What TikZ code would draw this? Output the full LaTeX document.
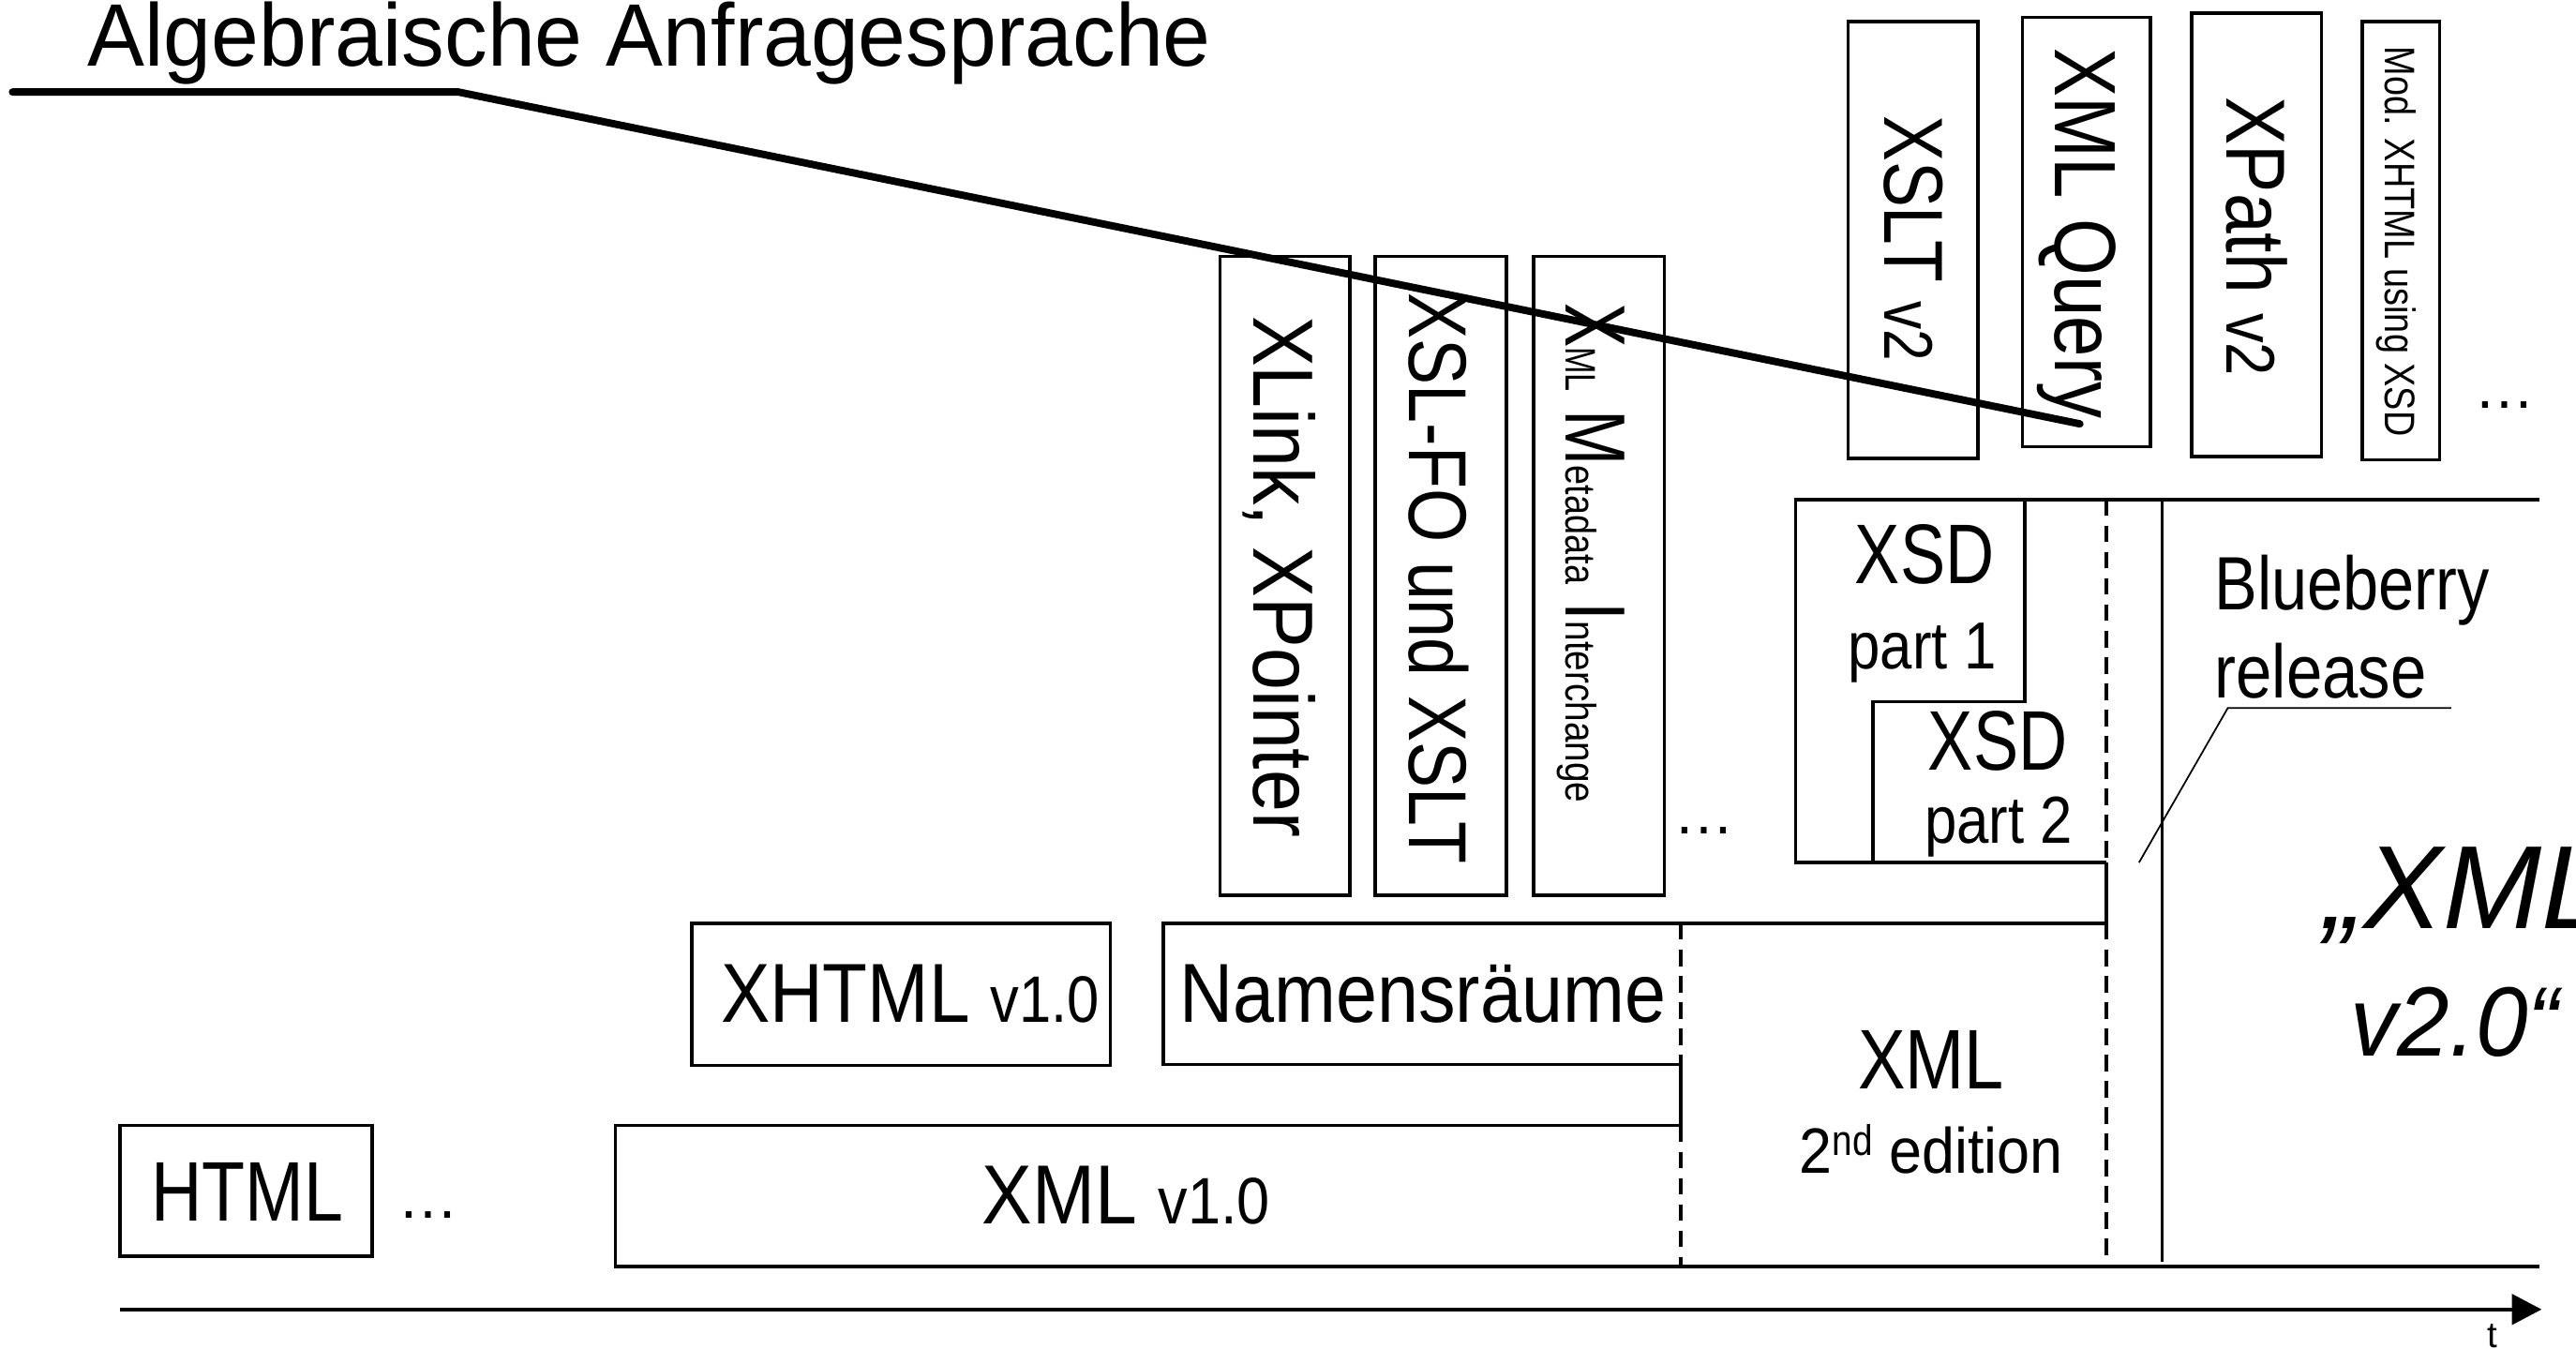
\documentclass[tikz,border=0pt]{standalone}
\usepackage{graphicx}
\usepackage{fontspec}
\setmainfont{Liberation Sans}
\usetikzlibrary{arrows.meta}
\newcommand{\sx}[3]{\scalebox{#1}[1]{\fontsize{#2}{#2}\selectfont #3}}
\begin{document}
\begin{tikzpicture}[x=1pt,y=-1pt,
  bx/.style={draw, line width=2pt},
  ln/.style={line width=2pt},
  dsh/.style={line width=2pt, dash pattern=on 10pt off 6pt},
  thk/.style={line width=4.5pt, line cap=round},
  thn/.style={line width=1pt},
  txt/.style={inner sep=0pt, outer sep=0pt},
  vt/.style={txt, rotate=-90, anchor=base}
]
\useasboundingbox (0,0) rectangle (1568,821);
\clip (0,0) rectangle (1568,821);

% ---- top-right vertical boxes
\draw[bx] (1125,13) rectangle (1204,279);
\draw[bx] (1231,10.6) rectangle (1309,272);
\draw[bx] (1334,8) rectangle (1413,278);
\draw[bx] (1438,13) rectangle (1485,280);
\node[vt] (xslt2) at (1147,145) {\sx{0.82}{51}{XSLT\ }\sx{0.82}{42}{v2}};
\node[vt] (xq) at (1251,142) {\sx{0.84}{53}{XML Query}};
\node[vt] (xp2) at (1355.5,144) {\sx{0.86}{51}{XPath\ }\sx{0.86}{42}{v2}};
\node[vt] (mod) at (1452,147) {\sx{0.83}{26}{Mod. XHTML using XSD}};
\node[txt, anchor=base] (dots3) at (1524.5,248.5) {\sx{1}{37}{…}};

% ---- middle vertical boxes
\draw[bx] (742.5,156) rectangle (821.6,545);
\draw[bx] (837,156) rectangle (917,545);
\draw[bx] (933.5,156) rectangle (1013,545);
\node[vt] (xlink) at (763,351) {\sx{0.885}{52}{XLink, XPointer}};
\node[vt] (xslfo) at (858,352) {\sx{0.84}{50}{XSL-FO und XSLT}};
\node[vt] (xmi) at (953,336.5) {\sx{0.78}{52}{X}\sx{0.75}{26}{ML}\sx{0.78}{52}{\ M}\sx{0.83}{26}{etadata}\sx{0.85}{26}{}\sx{0.78}{52}{\ I}\sx{0.85}{26}{nterchange}};
\node[txt, anchor=base] (dots2) at (1037.5,507.5) {\sx{1}{37}{…}};

% ---- lower boxes
\draw[bx] (73,685) rectangle (226.5,764.6);
\node[txt, anchor=base] (html) at (150.5,743) {\sx{0.835}{51.5}{HTML}};
\node[txt, anchor=base] (dots1) at (260.5,741.5) {\sx{1}{37}{…}};

\draw[bx] (421,562) rectangle (676,648.5);
\node[txt, anchor=base] (xhtml) at (554,622) {\sx{0.877}{51}{XHTML\ }\sx{0.877}{40}{v1.0}};

\draw[ln] (1023,648) -- (708,648) -- (708,562) -- (1282,562);
\draw[dsh] (1023,562) -- (1023,648);
\draw[ln] (1023,648) -- (1023,685);
\draw[dsh] (1023,685) -- (1023,771);
\draw[ln] (1023,685) -- (374.5,685) -- (374.5,771) -- (1546,771);
\node[txt, anchor=base] (ns) at (866,622) {\sx{0.885}{51}{Namensräume}};
\node[txt, anchor=base] (xml1) at (685.5,745) {\sx{0.9}{51}{XML\ }\sx{0.9}{40}{v1.0}};
\node[txt, anchor=base] (xml2) at (1175.5,663) {\sx{0.84}{51.5}{XML}};
\node[txt, anchor=base] (ed2) at (1175.5,714) {\sx{0.92}{39}{2}\raisebox{11pt}{\sx{0.85}{26}{nd}}\sx{0.92}{39}{\ edition}};

% ---- XSD region
\draw[ln] (1546,304) -- (1093,304) -- (1093,525) -- (1282,525);
\draw[ln] (1232.5,304) -- (1232.5,427) -- (1140,427) -- (1140,525);
\draw[dsh] (1282,304) -- (1282,525);
\draw[ln] (1282,525) -- (1282,562);
\draw[dsh] (1282,562) -- (1282,771);
\draw[ln] (1316,304) -- (1316,768);
\node[txt, anchor=base] (xsd1) at (1171.5,355) {\sx{0.8}{51.5}{XSD}};
\node[txt, anchor=base] (p1) at (1170,407) {\sx{0.87}{40.5}{part 1}};
\node[txt, anchor=base] (xsd2) at (1216,469) {\sx{0.8}{51.5}{XSD}};
\node[txt, anchor=base] (p2) at (1216.5,513) {\sx{0.87}{40.5}{part 2}};

% ---- Blueberry release
\node[txt, anchor=base west] (blue) at (1348,371) {\sx{0.85}{46}{Blueberry}};
\node[txt, anchor=base west] (rel) at (1348,425) {\sx{0.855}{46}{release}};
\coordinate (ulr) at (1492,431);
\coordinate (ull) at (1356,431);
\coordinate (ptr) at (1302,525);
\draw[thn] (ulr) -- (ull) -- (ptr);

% ---- XML v2.0
\node[txt, anchor=base west] (v2a) at (1415,565) {\sx{1}{72}{\itshape „XML}};
\node[txt, anchor=base west] (v2b) at (1431,643) {\sx{0.95}{60}{\itshape v2.0“}};

% ---- time axis
\coordinate (ax0) at (73,797);
\coordinate (ax1) at (1530,797);
\coordinate (tip) at (1547,797);
\draw[line width=2.2pt] (ax0) -- (ax1);
\fill (tip) -- ++(-18,-9.5) -- ++(0,19) -- cycle;
\node[txt, anchor=base] (t) at (1517,820) {\sx{1}{22}{t}};

% ---- title and pointer line
\node[txt, anchor=base west] (title) at (53.5,40) {\sx{0.965}{54}{Algebraische Anfragesprache}};
\coordinate (l0) at (7.6,56);
\coordinate (l1) at (279,56);
\coordinate (l2) at (1266,258);
\draw[thk] (l0) -- (l1) -- (l2);
\end{tikzpicture}
\end{document}
